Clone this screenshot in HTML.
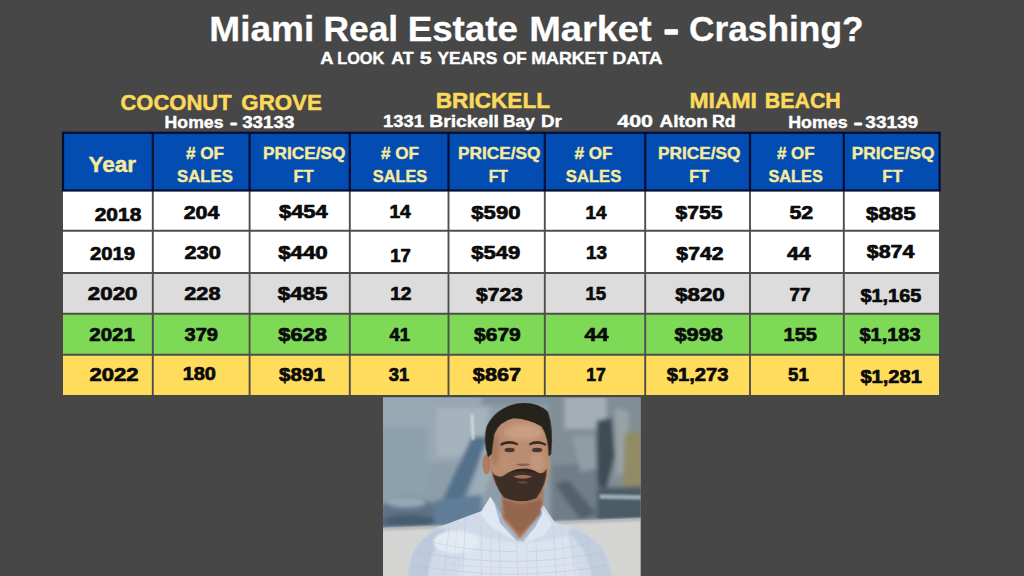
<!DOCTYPE html>
<html lang="en"><head><meta charset="utf-8"><title>Miami Real Estate Market - Crashing?</title>
<style>
html,body{margin:0;padding:0;background:#474747;}
body{width:1024px;height:576px;overflow:hidden;position:relative;font-family:"Liberation Sans",sans-serif;}
svg{position:absolute;left:0;top:0;display:block;}
text{font-family:"Liberation Sans",sans-serif;font-weight:700;}
</style></head><body>
<svg width="1024" height="576" viewBox="0 0 1024 576">
<rect x="0" y="0" width="1024" height="576" fill="#474747"/>
<g id="table">
<rect x="62.0" y="131.8" width="878.6" height="59.7" fill="#034cb1"/>
<rect x="63.0" y="190.5" width="876.0" height="40.3" fill="#ffffff"/>
<rect x="63.0" y="230.8" width="876.0" height="42.2" fill="#ffffff"/>
<rect x="63.0" y="273.0" width="876.0" height="40.7" fill="#dcdcdc"/>
<rect x="63.0" y="313.7" width="876.0" height="41.0" fill="#7ed957"/>
<rect x="63.0" y="354.7" width="876.0" height="40.3" fill="#ffdc5b"/>
<line x1="63.0" y1="230.8" x2="939.0" y2="230.8" stroke="#4e4e4e" stroke-width="1.9"/>
<line x1="63.0" y1="273.0" x2="939.0" y2="273.0" stroke="#4e4e4e" stroke-width="1.9"/>
<line x1="63.0" y1="313.7" x2="939.0" y2="313.7" stroke="#4e4e4e" stroke-width="1.9"/>
<line x1="63.0" y1="354.7" x2="939.0" y2="354.7" stroke="#4e4e4e" stroke-width="1.9"/>
<line x1="152.8" y1="190.5" x2="152.8" y2="395.0" stroke="#4e4e4e" stroke-width="1.9"/>
<line x1="249.6" y1="190.5" x2="249.6" y2="395.0" stroke="#4e4e4e" stroke-width="1.9"/>
<line x1="349.8" y1="190.5" x2="349.8" y2="395.0" stroke="#4e4e4e" stroke-width="1.9"/>
<line x1="448.5" y1="190.5" x2="448.5" y2="395.0" stroke="#4e4e4e" stroke-width="1.9"/>
<line x1="544.8" y1="190.5" x2="544.8" y2="395.0" stroke="#4e4e4e" stroke-width="1.9"/>
<line x1="645.2" y1="190.5" x2="645.2" y2="395.0" stroke="#4e4e4e" stroke-width="1.9"/>
<line x1="750.0" y1="190.5" x2="750.0" y2="395.0" stroke="#4e4e4e" stroke-width="1.9"/>
<line x1="843.8" y1="190.5" x2="843.8" y2="395.0" stroke="#4e4e4e" stroke-width="1.9"/>
<rect x="63.0" y="132.8" width="876.6" height="57.7" fill="none" stroke="#040f30" stroke-width="2.2"/>
<line x1="152.8" y1="132.8" x2="152.8" y2="190.5" stroke="#040f30" stroke-width="2.2"/>
<line x1="249.6" y1="132.8" x2="249.6" y2="190.5" stroke="#040f30" stroke-width="2.2"/>
<line x1="349.8" y1="132.8" x2="349.8" y2="190.5" stroke="#040f30" stroke-width="2.2"/>
<line x1="448.5" y1="132.8" x2="448.5" y2="190.5" stroke="#040f30" stroke-width="2.2"/>
<line x1="544.8" y1="132.8" x2="544.8" y2="190.5" stroke="#040f30" stroke-width="2.2"/>
<line x1="645.2" y1="132.8" x2="645.2" y2="190.5" stroke="#040f30" stroke-width="2.2"/>
<line x1="750.0" y1="132.8" x2="750.0" y2="190.5" stroke="#040f30" stroke-width="2.2"/>
<line x1="843.8" y1="132.8" x2="843.8" y2="190.5" stroke="#040f30" stroke-width="2.2"/>
</g>
<g id="titles">
<text y="40.50" font-size="35.5" fill="#ffffff" stroke="#ffffff" stroke-width="0.30" stroke-linejoin="round"><tspan x="209.38" textLength="104.96" lengthAdjust="spacingAndGlyphs">Miami</tspan> <tspan x="323.43" textLength="74.72" lengthAdjust="spacingAndGlyphs">Real</tspan> <tspan x="407.66" textLength="110.34" lengthAdjust="spacingAndGlyphs">Estate</tspan> <tspan x="529.19" textLength="122.38" lengthAdjust="spacingAndGlyphs">Market</tspan> <tspan x="663.43" textLength="15.39" lengthAdjust="spacingAndGlyphs" stroke-width="1.29">-</tspan> <tspan x="688.99" textLength="174.58" lengthAdjust="spacingAndGlyphs">Crashing?</tspan></text>
<text y="64.30" font-size="16.2" fill="#ffffff" stroke="#ffffff" stroke-width="0.40" stroke-linejoin="round"><tspan x="320.15" textLength="12.56" lengthAdjust="spacingAndGlyphs">A</tspan> <tspan x="337.20" textLength="47.18" lengthAdjust="spacingAndGlyphs">LOOK</tspan> <tspan x="391.28" textLength="22.40" lengthAdjust="spacingAndGlyphs">AT</tspan> <tspan x="419.67" textLength="11.95" lengthAdjust="spacingAndGlyphs">5</tspan> <tspan x="437.49" textLength="59.71" lengthAdjust="spacingAndGlyphs">YEARS</tspan> <tspan x="503.10" textLength="23.61" lengthAdjust="spacingAndGlyphs">OF</tspan> <tspan x="531.32" textLength="76.01" lengthAdjust="spacingAndGlyphs">MARKET</tspan> <tspan x="612.42" textLength="50.25" lengthAdjust="spacingAndGlyphs">DATA</tspan></text>
<text y="109.50" font-size="22.0" fill="#fbd95b" stroke="#fbd95b" stroke-width="0.50" stroke-linejoin="round"><tspan x="120.46" textLength="111.13" lengthAdjust="spacingAndGlyphs">COCONUT</tspan> <tspan x="241.30" textLength="80.60" lengthAdjust="spacingAndGlyphs">GROVE</tspan></text>
<text y="128.00" font-size="16.4" fill="#ffffff" stroke="#ffffff" stroke-width="0.40" stroke-linejoin="round"><tspan x="164.64" textLength="58.84" lengthAdjust="spacingAndGlyphs">Homes</tspan> <tspan x="230.02" textLength="7.32" lengthAdjust="spacingAndGlyphs" stroke-width="0.86">-</tspan> <tspan x="242.16" textLength="52.31" lengthAdjust="spacingAndGlyphs">33133</tspan></text>
<text x="435.74" y="108.40" font-size="21.8" fill="#fbd95b" stroke="#fbd95b" stroke-width="0.50" stroke-linejoin="round" textLength="114.35" lengthAdjust="spacingAndGlyphs">BRICKELL</text>
<text y="126.80" font-size="16.8" fill="#ffffff" stroke="#ffffff" stroke-width="0.40" stroke-linejoin="round"><tspan x="383.05" textLength="40.84" lengthAdjust="spacingAndGlyphs">1331</tspan> <tspan x="429.22" textLength="69.77" lengthAdjust="spacingAndGlyphs">Brickell</tspan> <tspan x="503.00" textLength="31.87" lengthAdjust="spacingAndGlyphs">Bay</tspan> <tspan x="541.07" textLength="20.81" lengthAdjust="spacingAndGlyphs">Dr</tspan></text>
<text y="108.00" font-size="21.5" fill="#fbd95b" stroke="#fbd95b" stroke-width="0.50" stroke-linejoin="round"><tspan x="689.41" textLength="67.53" lengthAdjust="spacingAndGlyphs">MIAMI</tspan> <tspan x="764.71" textLength="76.08" lengthAdjust="spacingAndGlyphs">BEACH</tspan></text>
<text y="126.60" font-size="16.6" fill="#ffffff" stroke="#ffffff" stroke-width="0.40" stroke-linejoin="round"><tspan x="617.28" textLength="35.71" lengthAdjust="spacingAndGlyphs">400</tspan> <tspan x="659.59" textLength="48.10" lengthAdjust="spacingAndGlyphs">Alton</tspan> <tspan x="712.01" textLength="23.72" lengthAdjust="spacingAndGlyphs">Rd</tspan></text>
<text y="128.40" font-size="16.4" fill="#ffffff" stroke="#ffffff" stroke-width="0.40" stroke-linejoin="round"><tspan x="788.26" textLength="59.28" lengthAdjust="spacingAndGlyphs">Homes</tspan> <tspan x="853.86" textLength="8.72" lengthAdjust="spacingAndGlyphs" stroke-width="0.86">-</tspan> <tspan x="865.30" textLength="52.92" lengthAdjust="spacingAndGlyphs">33139</tspan></text>
</g>
<g id="thead">
<text x="88.42" y="172.30" font-size="21.6" fill="#f6eb9c" stroke="#f6eb9c" stroke-width="0.40" stroke-linejoin="round" textLength="47.71" lengthAdjust="spacingAndGlyphs">Year</text>
<text x="185.95" y="159.30" font-size="16.6" fill="#f6eb9c" stroke="#f6eb9c" stroke-width="0.40" stroke-linejoin="round" textLength="38.08" lengthAdjust="spacingAndGlyphs"># OF</text>
<text x="177.03" y="182.10" font-size="16.6" fill="#f6eb9c" stroke="#f6eb9c" stroke-width="0.40" stroke-linejoin="round" textLength="55.79" lengthAdjust="spacingAndGlyphs">SALES</text>
<text x="263.06" y="159.30" font-size="16.6" fill="#f6eb9c" stroke="#f6eb9c" stroke-width="0.40" stroke-linejoin="round" textLength="82.30" lengthAdjust="spacingAndGlyphs">PRICE/SQ</text>
<text x="293.47" y="182.10" font-size="16.6" fill="#f6eb9c" stroke="#f6eb9c" stroke-width="0.40" stroke-linejoin="round" textLength="20.23" lengthAdjust="spacingAndGlyphs">FT</text>
<text x="380.95" y="159.30" font-size="16.6" fill="#f6eb9c" stroke="#f6eb9c" stroke-width="0.40" stroke-linejoin="round" textLength="38.08" lengthAdjust="spacingAndGlyphs"># OF</text>
<text x="372.77" y="182.10" font-size="16.6" fill="#f6eb9c" stroke="#f6eb9c" stroke-width="0.40" stroke-linejoin="round" textLength="54.48" lengthAdjust="spacingAndGlyphs">SALES</text>
<text x="458.06" y="159.30" font-size="16.6" fill="#f6eb9c" stroke="#f6eb9c" stroke-width="0.40" stroke-linejoin="round" textLength="82.30" lengthAdjust="spacingAndGlyphs">PRICE/SQ</text>
<text x="488.76" y="182.10" font-size="16.6" fill="#f6eb9c" stroke="#f6eb9c" stroke-width="0.40" stroke-linejoin="round" textLength="19.25" lengthAdjust="spacingAndGlyphs">FT</text>
<text x="574.48" y="159.30" font-size="16.6" fill="#f6eb9c" stroke="#f6eb9c" stroke-width="0.40" stroke-linejoin="round" textLength="38.12" lengthAdjust="spacingAndGlyphs"># OF</text>
<text x="565.80" y="182.10" font-size="16.6" fill="#f6eb9c" stroke="#f6eb9c" stroke-width="0.40" stroke-linejoin="round" textLength="55.44" lengthAdjust="spacingAndGlyphs">SALES</text>
<text x="658.06" y="159.30" font-size="16.6" fill="#f6eb9c" stroke="#f6eb9c" stroke-width="0.40" stroke-linejoin="round" textLength="82.30" lengthAdjust="spacingAndGlyphs">PRICE/SQ</text>
<text x="689.34" y="182.10" font-size="16.6" fill="#f6eb9c" stroke="#f6eb9c" stroke-width="0.40" stroke-linejoin="round" textLength="19.82" lengthAdjust="spacingAndGlyphs">FT</text>
<text x="776.96" y="159.30" font-size="16.6" fill="#f6eb9c" stroke="#f6eb9c" stroke-width="0.40" stroke-linejoin="round" textLength="37.72" lengthAdjust="spacingAndGlyphs"># OF</text>
<text x="768.47" y="182.10" font-size="16.6" fill="#f6eb9c" stroke="#f6eb9c" stroke-width="0.40" stroke-linejoin="round" textLength="54.28" lengthAdjust="spacingAndGlyphs">SALES</text>
<text x="851.69" y="159.30" font-size="16.6" fill="#f6eb9c" stroke="#f6eb9c" stroke-width="0.40" stroke-linejoin="round" textLength="82.91" lengthAdjust="spacingAndGlyphs">PRICE/SQ</text>
<text x="882.36" y="182.10" font-size="16.6" fill="#f6eb9c" stroke="#f6eb9c" stroke-width="0.40" stroke-linejoin="round" textLength="20.48" lengthAdjust="spacingAndGlyphs">FT</text>
</g>
<g id="tbody">
<text x="94.71" y="220.50" font-size="18.2" fill="#0b0b0b" stroke="#0b0b0b" stroke-width="0.70" stroke-linejoin="round" textLength="46.60" lengthAdjust="spacingAndGlyphs">2018</text>
<text x="183.71" y="218.80" font-size="18.2" fill="#0b0b0b" stroke="#0b0b0b" stroke-width="0.70" stroke-linejoin="round" textLength="35.70" lengthAdjust="spacingAndGlyphs">204</text>
<text x="279.05" y="218.20" font-size="18.2" fill="#0b0b0b" stroke="#0b0b0b" stroke-width="0.70" stroke-linejoin="round" textLength="48.65" lengthAdjust="spacingAndGlyphs">$454</text>
<text x="389.41" y="218.20" font-size="18.2" fill="#0b0b0b" stroke="#0b0b0b" stroke-width="0.70" stroke-linejoin="round" textLength="21.39" lengthAdjust="spacingAndGlyphs">14</text>
<text x="471.37" y="219.00" font-size="18.2" fill="#0b0b0b" stroke="#0b0b0b" stroke-width="0.70" stroke-linejoin="round" textLength="49.05" lengthAdjust="spacingAndGlyphs">$590</text>
<text x="585.58" y="218.80" font-size="18.2" fill="#0b0b0b" stroke="#0b0b0b" stroke-width="0.70" stroke-linejoin="round" textLength="20.96" lengthAdjust="spacingAndGlyphs">14</text>
<text x="675.64" y="218.80" font-size="18.2" fill="#0b0b0b" stroke="#0b0b0b" stroke-width="0.70" stroke-linejoin="round" textLength="46.95" lengthAdjust="spacingAndGlyphs">$755</text>
<text x="789.49" y="218.80" font-size="18.2" fill="#0b0b0b" stroke="#0b0b0b" stroke-width="0.70" stroke-linejoin="round" textLength="23.74" lengthAdjust="spacingAndGlyphs">52</text>
<text x="866.04" y="220.00" font-size="18.2" fill="#0b0b0b" stroke="#0b0b0b" stroke-width="0.70" stroke-linejoin="round" textLength="49.54" lengthAdjust="spacingAndGlyphs">$885</text>
<text x="89.95" y="260.00" font-size="18.2" fill="#0b0b0b" stroke="#0b0b0b" stroke-width="0.70" stroke-linejoin="round" textLength="45.10" lengthAdjust="spacingAndGlyphs">2019</text>
<text x="184.41" y="259.30" font-size="18.2" fill="#0b0b0b" stroke="#0b0b0b" stroke-width="0.70" stroke-linejoin="round" textLength="36.37" lengthAdjust="spacingAndGlyphs">230</text>
<text x="278.20" y="259.30" font-size="18.2" fill="#0b0b0b" stroke="#0b0b0b" stroke-width="0.70" stroke-linejoin="round" textLength="49.54" lengthAdjust="spacingAndGlyphs">$440</text>
<text x="390.23" y="261.80" font-size="18.2" fill="#0b0b0b" stroke="#0b0b0b" stroke-width="0.70" stroke-linejoin="round" textLength="20.60" lengthAdjust="spacingAndGlyphs">17</text>
<text x="471.38" y="259.30" font-size="18.2" fill="#0b0b0b" stroke="#0b0b0b" stroke-width="0.70" stroke-linejoin="round" textLength="49.01" lengthAdjust="spacingAndGlyphs">$549</text>
<text x="586.08" y="259.30" font-size="18.2" fill="#0b0b0b" stroke="#0b0b0b" stroke-width="0.70" stroke-linejoin="round" textLength="20.99" lengthAdjust="spacingAndGlyphs">13</text>
<text x="676.39" y="259.50" font-size="18.2" fill="#0b0b0b" stroke="#0b0b0b" stroke-width="0.70" stroke-linejoin="round" textLength="47.02" lengthAdjust="spacingAndGlyphs">$742</text>
<text x="787.01" y="259.50" font-size="18.2" fill="#0b0b0b" stroke="#0b0b0b" stroke-width="0.70" stroke-linejoin="round" textLength="23.73" lengthAdjust="spacingAndGlyphs">44</text>
<text x="866.88" y="257.50" font-size="18.2" fill="#0b0b0b" stroke="#0b0b0b" stroke-width="0.70" stroke-linejoin="round" textLength="47.48" lengthAdjust="spacingAndGlyphs">$874</text>
<text x="87.85" y="300.30" font-size="18.2" fill="#0b0b0b" stroke="#0b0b0b" stroke-width="0.70" stroke-linejoin="round" textLength="49.61" lengthAdjust="spacingAndGlyphs">2020</text>
<text x="184.27" y="300.30" font-size="18.2" fill="#0b0b0b" stroke="#0b0b0b" stroke-width="0.70" stroke-linejoin="round" textLength="36.23" lengthAdjust="spacingAndGlyphs">228</text>
<text x="277.72" y="300.30" font-size="18.2" fill="#0b0b0b" stroke="#0b0b0b" stroke-width="0.70" stroke-linejoin="round" textLength="49.74" lengthAdjust="spacingAndGlyphs">$485</text>
<text x="390.18" y="300.30" font-size="18.2" fill="#0b0b0b" stroke="#0b0b0b" stroke-width="0.70" stroke-linejoin="round" textLength="21.34" lengthAdjust="spacingAndGlyphs">12</text>
<text x="476.05" y="300.80" font-size="18.2" fill="#0b0b0b" stroke="#0b0b0b" stroke-width="0.70" stroke-linejoin="round" textLength="46.72" lengthAdjust="spacingAndGlyphs">$723</text>
<text x="585.54" y="300.30" font-size="18.2" fill="#0b0b0b" stroke="#0b0b0b" stroke-width="0.70" stroke-linejoin="round" textLength="20.63" lengthAdjust="spacingAndGlyphs">15</text>
<text x="675.20" y="300.80" font-size="18.2" fill="#0b0b0b" stroke="#0b0b0b" stroke-width="0.70" stroke-linejoin="round" textLength="49.54" lengthAdjust="spacingAndGlyphs">$820</text>
<text x="789.56" y="300.80" font-size="18.2" fill="#0b0b0b" stroke="#0b0b0b" stroke-width="0.70" stroke-linejoin="round" textLength="21.04" lengthAdjust="spacingAndGlyphs">77</text>
<text x="860.43" y="301.70" font-size="18.2" fill="#0b0b0b" stroke="#0b0b0b" stroke-width="0.70" stroke-linejoin="round" textLength="60.88" lengthAdjust="spacingAndGlyphs">$1,165</text>
<text x="89.31" y="341.30" font-size="18.2" fill="#0b0b0b" stroke="#0b0b0b" stroke-width="0.70" stroke-linejoin="round" textLength="45.62" lengthAdjust="spacingAndGlyphs">2021</text>
<text x="184.52" y="341.30" font-size="18.2" fill="#0b0b0b" stroke="#0b0b0b" stroke-width="0.70" stroke-linejoin="round" textLength="33.52" lengthAdjust="spacingAndGlyphs">379</text>
<text x="278.25" y="341.30" font-size="18.2" fill="#0b0b0b" stroke="#0b0b0b" stroke-width="0.70" stroke-linejoin="round" textLength="48.74" lengthAdjust="spacingAndGlyphs">$628</text>
<text x="389.41" y="341.30" font-size="18.2" fill="#0b0b0b" stroke="#0b0b0b" stroke-width="0.70" stroke-linejoin="round" textLength="20.47" lengthAdjust="spacingAndGlyphs">41</text>
<text x="474.05" y="341.30" font-size="18.2" fill="#0b0b0b" stroke="#0b0b0b" stroke-width="0.70" stroke-linejoin="round" textLength="46.69" lengthAdjust="spacingAndGlyphs">$679</text>
<text x="584.64" y="341.30" font-size="18.2" fill="#0b0b0b" stroke="#0b0b0b" stroke-width="0.70" stroke-linejoin="round" textLength="23.78" lengthAdjust="spacingAndGlyphs">44</text>
<text x="674.41" y="341.40" font-size="18.2" fill="#0b0b0b" stroke="#0b0b0b" stroke-width="0.70" stroke-linejoin="round" textLength="48.50" lengthAdjust="spacingAndGlyphs">$998</text>
<text x="783.54" y="341.40" font-size="18.2" fill="#0b0b0b" stroke="#0b0b0b" stroke-width="0.70" stroke-linejoin="round" textLength="33.53" lengthAdjust="spacingAndGlyphs">155</text>
<text x="859.51" y="341.40" font-size="18.2" fill="#0b0b0b" stroke="#0b0b0b" stroke-width="0.70" stroke-linejoin="round" textLength="60.98" lengthAdjust="spacingAndGlyphs">$1,183</text>
<text x="89.44" y="381.00" font-size="18.2" fill="#0b0b0b" stroke="#0b0b0b" stroke-width="0.70" stroke-linejoin="round" textLength="49.11" lengthAdjust="spacingAndGlyphs">2022</text>
<text x="182.67" y="379.80" font-size="18.2" fill="#0b0b0b" stroke="#0b0b0b" stroke-width="0.70" stroke-linejoin="round" textLength="33.29" lengthAdjust="spacingAndGlyphs">180</text>
<text x="279.05" y="381.00" font-size="18.2" fill="#0b0b0b" stroke="#0b0b0b" stroke-width="0.70" stroke-linejoin="round" textLength="45.89" lengthAdjust="spacingAndGlyphs">$891</text>
<text x="388.80" y="381.00" font-size="18.2" fill="#0b0b0b" stroke="#0b0b0b" stroke-width="0.70" stroke-linejoin="round" textLength="20.47" lengthAdjust="spacingAndGlyphs">31</text>
<text x="472.87" y="381.00" font-size="18.2" fill="#0b0b0b" stroke="#0b0b0b" stroke-width="0.70" stroke-linejoin="round" textLength="48.09" lengthAdjust="spacingAndGlyphs">$867</text>
<text x="586.37" y="381.00" font-size="18.2" fill="#0b0b0b" stroke="#0b0b0b" stroke-width="0.70" stroke-linejoin="round" textLength="19.48" lengthAdjust="spacingAndGlyphs">17</text>
<text x="666.79" y="381.30" font-size="18.2" fill="#0b0b0b" stroke="#0b0b0b" stroke-width="0.70" stroke-linejoin="round" textLength="61.67" lengthAdjust="spacingAndGlyphs">$1,273</text>
<text x="788.06" y="381.30" font-size="18.2" fill="#0b0b0b" stroke="#0b0b0b" stroke-width="0.70" stroke-linejoin="round" textLength="20.69" lengthAdjust="spacingAndGlyphs">51</text>
<text x="860.43" y="382.90" font-size="18.2" fill="#0b0b0b" stroke="#0b0b0b" stroke-width="0.70" stroke-linejoin="round" textLength="61.50" lengthAdjust="spacingAndGlyphs">$1,281</text>
</g>
<defs>
<clipPath id="pc"><rect x="383.0" y="397.6" width="257.5" height="178.4"/></clipPath>
<filter id="b1" x="-20%" y="-20%" width="140%" height="140%"><feGaussianBlur stdDeviation="1.2"/></filter>
<filter id="b3" x="-30%" y="-30%" width="160%" height="160%"><feGaussianBlur stdDeviation="3"/></filter>
<filter id="b6" x="-40%" y="-40%" width="180%" height="180%"><feGaussianBlur stdDeviation="6"/></filter>
<filter id="b2" x="-20%" y="-20%" width="140%" height="140%"><feGaussianBlur stdDeviation="2"/></filter>
<filter id="b7" x="-10%" y="-10%" width="120%" height="120%"><feGaussianBlur stdDeviation="7"/></filter>
<clipPath id="sc"><path d="M92,600 L108,520 Q125,465 190,425 L330,372 L358,328 L400,400 L450,462 L500,400 L522,352 L560,408 L622,425 Q690,455 722,512 L748,600 Z"/></clipPath>
</defs>
<g id="photo" clip-path="url(#pc)">
<g transform="translate(376 392) scale(0.31958)">
<!-- painting base -->
<rect x="0" y="0" width="860" height="600" fill="#98a9b5"/>
<g filter="url(#b7)">
  <rect x="-20" y="-20" width="380" height="240" fill="#a4b4bf"/>
  <rect x="190" y="50" width="160" height="150" fill="#b3c0c9"/>
  <rect x="10" y="110" width="150" height="220" fill="#98abb9"/>
  <rect x="540" y="-20" width="340" height="440" fill="#8b979f"/>
  <rect x="590" y="15" width="130" height="100" fill="#b2bcc1"/>
  <rect x="330" y="-10" width="230" height="50" fill="#8a98a2"/>
  <polygon points="300,140 352,140 240,420 170,420" fill="#587691"/>
  <polygon points="356,150 400,150 300,420 255,420" fill="#a9b9c5"/>
  <polygon points="0,390 360,372 360,440 0,440" fill="#587086"/>
  <polygon points="180,340 330,320 330,430 180,430" fill="#6884a0"/>
  <ellipse cx="100" cy="372" rx="86" ry="46" fill="#63798d"/>
  <ellipse cx="95" cy="345" rx="62" ry="16" fill="#a3b5c1"/>
  <ellipse cx="105" cy="402" rx="80" ry="18" fill="#485f73"/>
  <polygon points="690,90 738,80 748,200 722,300 692,295" fill="#414e57"/>
  <polygon points="748,50 792,60 785,250 752,262" fill="#a4aeb1"/>
  <polygon points="778,130 850,120 850,300 772,300" fill="#9c9569"/>
  <polygon points="690,300 860,295 860,410 690,415" fill="#4f5e68"/>
  <polygon points="550,230 690,220 690,420 550,425" fill="#76858f"/>
  <polygon points="560,290 600,275 690,380 640,400" fill="#56656f"/>
  <polygon points="615,140 682,135 690,240 640,250" fill="#9ca8ae"/>
</g>
<g filter="url(#b3)">
  <polygon points="296,70 304,70 308,150 300,150" fill="#e8eef0"/>
  <polygon points="700,320 860,324 860,338 700,334" fill="#aeb9be"/>
</g>
<rect x="0" y="0" width="860" height="440" fill="#2f4050" opacity="0.10"/>
<!-- wall -->
<polygon points="0,426 860,394 860,600 0,600" fill="#d4d5d3"/>
<polygon points="0,424 860,392 860,402 0,434" fill="#aeb4b6" filter="url(#b3)"/>
<!-- shirt -->
<path d="M92,600 L108,520 Q125,465 190,425 L330,372 L358,328 L400,400 L450,462 L500,400 L522,352 L560,408 L622,425 Q690,455 722,512 L748,600 Z" fill="#d0dae9" filter="url(#b1)"/>
<g filter="url(#b3)" clip-path="url(#sc)">
<path d="M92,600 L108,520 Q125,465 190,425 L225,428 Q170,480 160,600 Z" fill="#bccadc"/>
<path d="M748,600 L722,512 Q690,455 622,425 L600,438 Q665,490 680,600 Z" fill="#c2cedd"/>
<path d="M300,440 Q440,500 600,450 L640,600 L250,600 Z" fill="#dbe3ee"/>
<ellipse cx="250" cy="470" rx="70" ry="35" fill="#e4eaf3"/>
</g>
<g opacity="0.55" filter="url(#b1)" stroke-width="2.2" fill="none">
<path d="M130,500 Q430,560 715,500 M112,540 Q430,600 730,540 M150,465 Q300,500 440,500 M470,500 Q600,495 690,465 M100,580 Q430,640 742,580" stroke="#a9bcd6"/>
<path d="M180,430 L150,600 M230,412 L210,600 M280,395 L270,600 M330,400 L330,600 M385,430 L390,600 M440,470 L445,600 M500,440 L505,600 M555,420 L565,600 M605,425 L625,600 M655,445 L685,600 M700,480 L735,600" stroke="#b3c3da"/>
<path d="M255,404 L240,600 M358,415 L360,600 M472,470 L475,600 M580,420 L595,600 M680,462 L710,600" stroke="#dcc3cc"/>
<path d="M120,520 Q430,580 722,520" stroke="#dcc3cc"/>
</g>
<g filter="url(#b1)">
<path d="M358,328 L326,380 L362,424 L442,468 L400,400 Z" fill="#dfe6f1"/>
<path d="M366,334 L398,398 L450,462 L442,468 L388,410 Z" fill="#a9b8ce"/>
<path d="M508,346 L550,410 L530,444 L466,474 L498,404 Z" fill="#dde5f0"/>
<path d="M508,346 L520,380 L500,420 L458,470 L450,462 L498,404 Z" fill="#aab9cf"/>
</g>
<!-- neck -->
<g filter="url(#b3)">
<path d="M392,300 L396,396 L450,462 L500,400 L522,354 L526,300 Z" fill="#a9795e"/>
<path d="M396,335 L450,352 L520,335 L514,384 L450,446 L402,390 Z" fill="#94664e"/>
</g>
<!-- head -->
<g filter="url(#b2)">
<ellipse cx="346" cy="226" rx="13" ry="32" fill="#ad7c62"/>
<path d="M360,125 Q375,85 430,76 Q495,72 528,108 Q545,150 546,230 Q540,292 502,332 Q452,352 400,330 Q368,292 356,240 Z" fill="#ba8c6f"/>
</g>
<g filter="url(#b6)">
<ellipse cx="462" cy="125" rx="60" ry="26" fill="#cba084" opacity="0.9"/>
<ellipse cx="505" cy="220" rx="24" ry="30" fill="#c69a7e" opacity="0.8"/>
<ellipse cx="405" cy="222" rx="20" ry="26" fill="#bf9276" opacity="0.7"/>
<ellipse cx="372" cy="180" rx="12" ry="50" fill="#9c6f58" opacity="0.7"/>
</g>
<g filter="url(#b2)">
<!-- beard -->
<path d="M360,236 Q366,262 378,262 Q392,270 408,256 Q440,238 458,240 Q480,236 506,252 Q522,260 534,240 Q534,290 502,332 Q452,352 400,330 Q372,296 360,236 Z" fill="#3d2e28"/>
<path d="M402,258 Q455,224 514,256 Q500,248 458,248 Q420,248 402,258 Z" fill="#2e2420"/>
<path d="M428,264 Q458,254 490,264 Q460,278 428,264 Z" fill="#a56e5a"/>
<path d="M440,282 Q458,276 478,282 Q460,290 440,282 Z" fill="#6a4c40"/>
<!-- hair -->
<path d="M350,204 Q334,150 346,108 Q372,52 440,36 Q505,28 538,62 Q556,110 548,194 L540,202 Q540,140 518,108 Q480,84 430,82 Q385,92 370,132 L362,194 Z" fill="#26211f"/>
<!-- eyes, brows, nose -->
<path d="M390,160 Q418,146 444,160 L444,167 Q418,155 390,169 Z" fill="#3a2a24"/>
<path d="M480,160 Q506,146 532,162 L532,169 Q506,155 480,167 Z" fill="#3a2a24"/>
<ellipse cx="418" cy="181" rx="16" ry="7" fill="#4a352c"/>
<ellipse cx="504" cy="181" rx="16" ry="7" fill="#4a352c"/>
<path d="M438,226 Q460,238 484,226 Q470,222 460,224 Q450,222 438,226 Z" fill="#8c5f4a"/>
</g>
</g>
</g>

</svg></body></html>
